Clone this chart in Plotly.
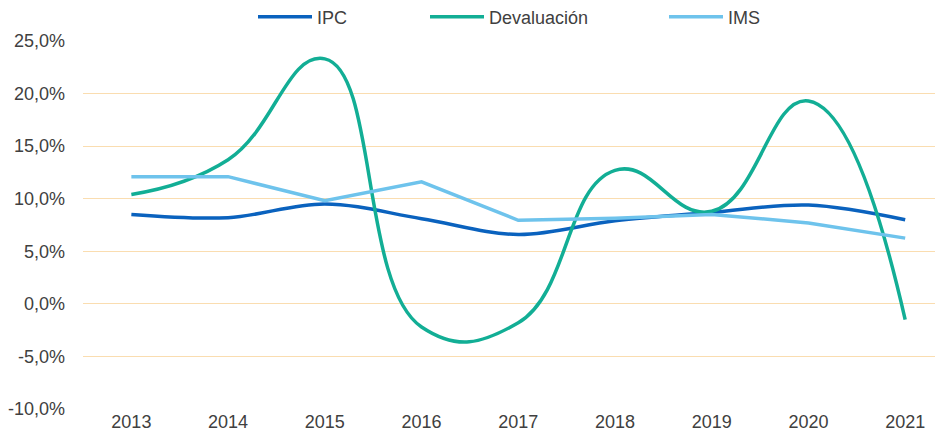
import plotly.graph_objects as go

years = [2013, 2014, 2015, 2016, 2017, 2018, 2019, 2020, 2021]
ipc = [8.5, 8.2, 9.5, 8.1, 6.6, 7.9, 8.7, 9.4, 8.0]
devaluacion = [10.4, 13.7, 23.3, -2.2, -1.8, 12.7, 8.8, 19.3, -1.5]
ims = [12.1, 12.1, 9.8, 11.6, 7.95, 8.15, 8.5, 7.7, 6.25]
y_ticks = [-10, -5, 0, 5, 10, 15, 20, 25]
y_labels = ["-10,0%", "-5,0%", "0,0%", "5,0%", "10,0%", "15,0%", "20,0%", "25,0%"]

W, H = 935, 433

fig = go.Figure()
fig.add_trace(go.Scatter(x=years, y=ipc, name="IPC", mode="lines", legend="legend",
                         line=dict(color="#0A62BE", width=3.5, shape="spline", smoothing=1.0)))
fig.add_trace(go.Scatter(x=years, y=devaluacion, name="Devaluación", mode="lines", legend="legend2",
                         line=dict(color="#12AE95", width=3.5, shape="spline", smoothing=1.3)))
fig.add_trace(go.Scatter(x=years, y=ims, name="IMS", mode="lines", legend="legend3",
                         line=dict(color="#6EC3EC", width=3.5)))

leg_common = dict(orientation="h", xref="container", yref="container", xanchor="left",
                  yanchor="middle", y=1 - 9 / H, font=dict(size=18, color="#404040"),
                  bgcolor="rgba(0,0,0,0)", borderwidth=0, itemwidth=54)

fig.update_layout(
    width=W, height=H,
    margin=dict(l=75, r=3, t=33, b=32, autoexpand=False),
    paper_bgcolor="white", plot_bgcolor="white",
    font=dict(family="Liberation Sans, Arial, sans-serif", size=18, color="#404040"),
    legend=dict(x=245 / W, **leg_common),
    legend2=dict(x=417 / W, **leg_common),
    legend3=dict(x=656 / W, **leg_common),
    showlegend=True,
)
fig.update_xaxes(range=[2012.5, 2021.36], tickmode="array", tickvals=years,
                 ticktext=[str(y) for y in years], showgrid=False, zeroline=False,
                 showline=False, ticks="", automargin=False,
                 tickfont=dict(size=18, color="#404040"))
fig.update_yaxes(range=[-10, 25], tickmode="array", tickvals=y_ticks, ticktext=y_labels,
                 showgrid=True, gridcolor="#FADDB0", gridwidth=1, zeroline=False,
                 showline=False, ticks="", automargin=False, ticklabelstandoff=17,
                 tickfont=dict(size=18, color="#404040"))

fig.write_html("out.html")
